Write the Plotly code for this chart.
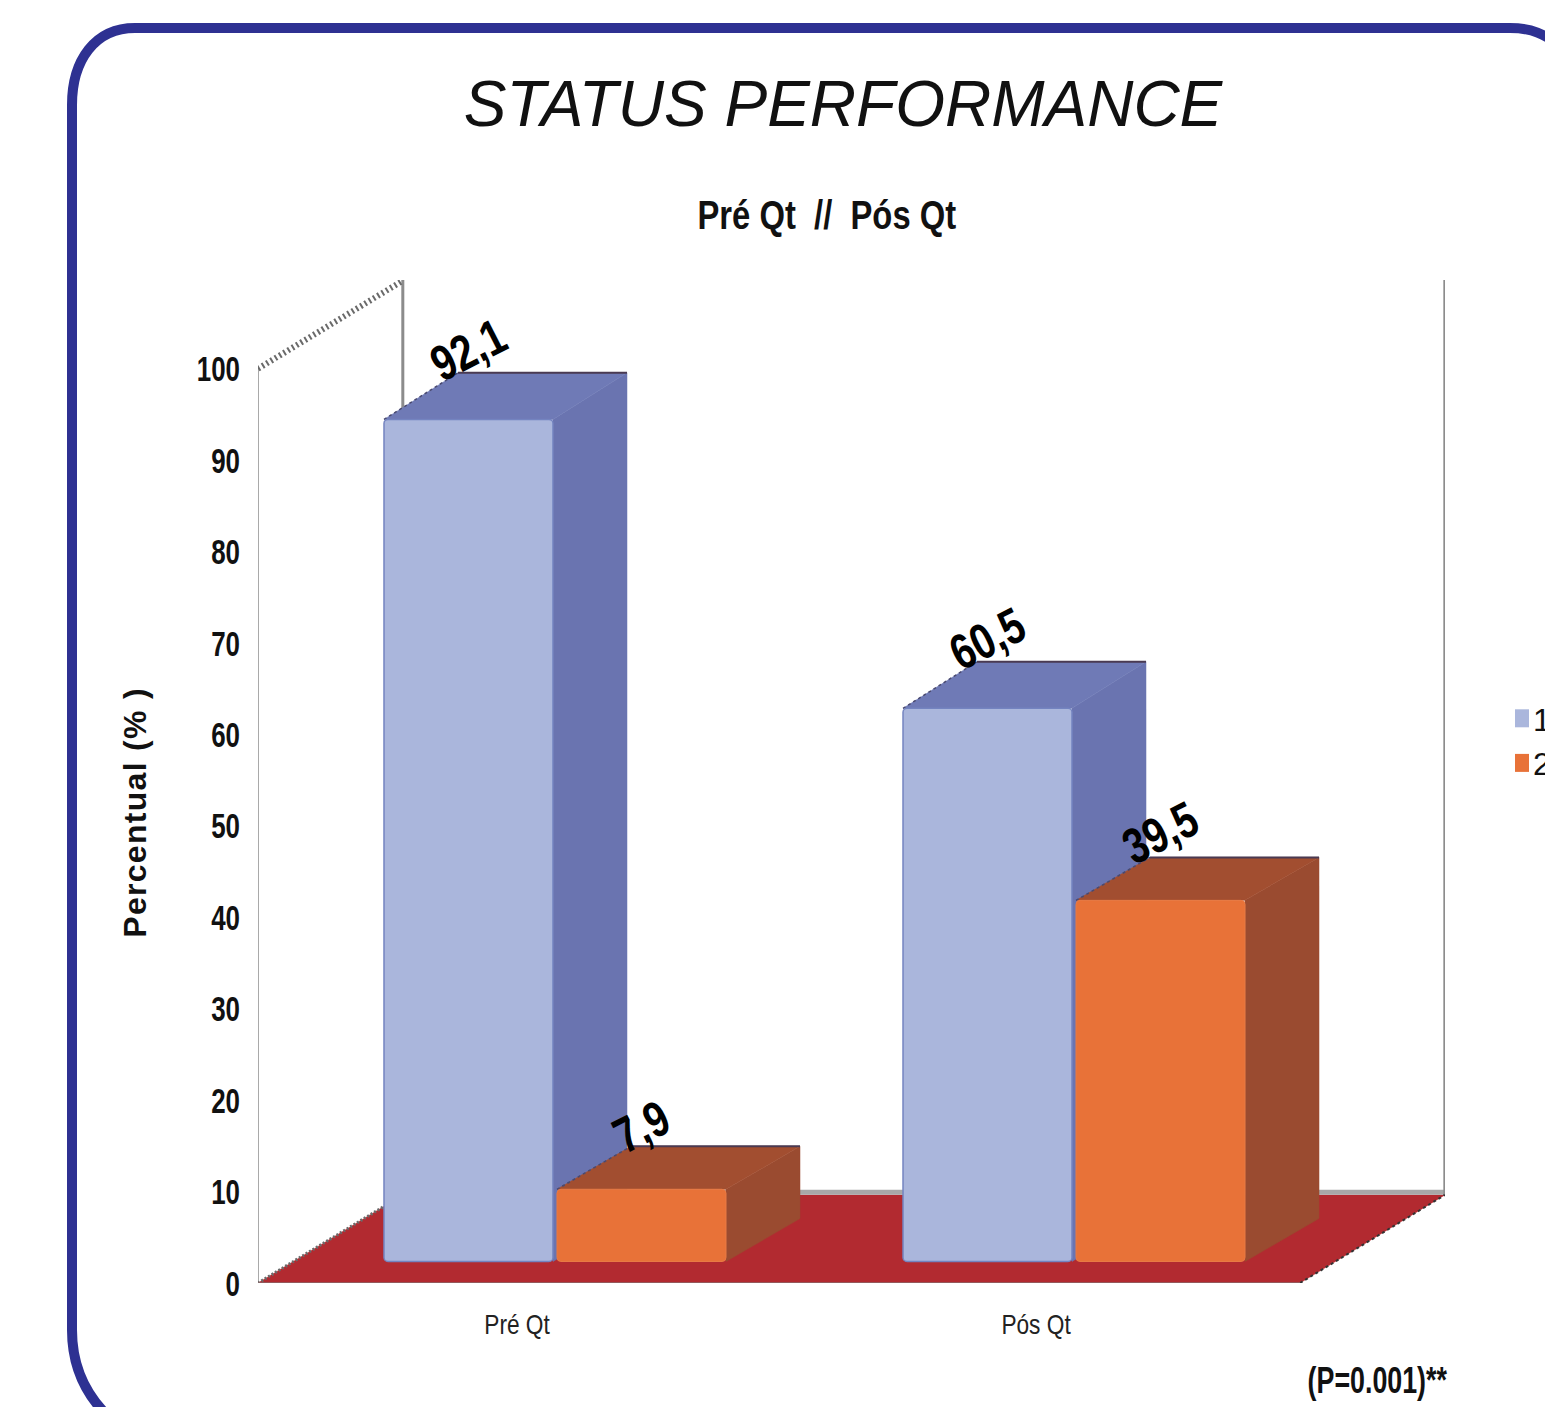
import json
import plotly.graph_objects as go

# Data
categories = ["Pré Qt", "Pós Qt"]
series_names = ["1", "2"]
series_1 = [92.1, 60.5]
series_2 = [7.9, 39.5]
label_1 = ["92,1", "60,5"]
label_2 = ["7,9", "39,5"]
y_ticks = [0, 10, 20, 30, 40, 50, 60, 70, 80, 90, 100]
positions = list(range(len(categories)))

# Geometry of the pseudo-3D box
W, H = 1545, 1407
L, R, T, B = 258, 100, 280, 124
PX_X, PX_Y = 519.0, 9.14
X0 = -0.499
XMAX = 1.788
YMAX = 109.7
FLOOR_DX, FLOOR_DY = 0.279, 9.63
BAR_DX = 0.1426
BAR_DY_1, BAR_DY_2 = 5.1, 4.7
BAR_W = 169 / PX_X
BASE = 2.35
SHIFT = 38 / PX_X
OFF_1 = SHIFT - BAR_W - 2 / PX_X
OFF_2 = SHIFT + 2 / PX_X
LABEL_SHIFT_1 = [69, 69]
LABEL_SHIFT_2 = [62, 67]

C1, C1S, C1T, C1E = "#aab6dc", "#6a74b0", "#6f7ab6", "#7484c0"
C2, C2S, C2T, C2E = "#e87238", "#9a4b30", "#a24e30", "#e87a44"
FLOOR = "#b22a30"
NARROW = "Liberation Sans Narrow, Liberation Sans, sans-serif"
SANS = "Liberation Sans, Arial, sans-serif"
# horizontal squeeze per font size, for the condensed look of the reference
SQUEEZE = {36: 0.72, 50: 0.79, 40: 0.82, 28: 0.81, 37: 0.725}


def px(x):
    return (x - L) / (W - L - R)


def py(y):
    return (H - B - y) / (H - T - B)


def poly(points):
    return "M" + " L".join(f"{a},{b}" for a, b in points) + " Z"


shapes = []


def add_poly(points, color):
    shapes.append(dict(type="path", xref="x", yref="y", layer="below", path=poly(points),
                       fillcolor=color, line=dict(color=color, width=0.5)))


def add_line(a, b, color, width, dash="solid"):
    shapes.append(dict(type="line", xref="x", yref="y", layer="below", x0=a[0], y0=a[1], x1=b[0], y1=b[1],
                       line=dict(color=color, width=width, dash=dash)))


# Frame
frame = (f"M{px(140)},{py(1440)} C{px(97)},{py(1415)} {px(72)},{py(1380)} {px(72)},{py(1330)} "
         f"L{px(72)},{py(105)} C{px(72)},{py(60)} {px(95)},{py(28)} {px(135)},{py(28)} "
         f"L{px(1510)},{py(28)} C{px(1530)},{py(28)} {px(1545)},{py(33)} {px(1565)},{py(50)}")
shapes.append(dict(type="path", xref="paper", yref="paper", layer="below", path=frame,
                   line=dict(color="#2e3192", width=10)))

# Walls and floor
x_end = 1300 / PX_X - 517 / PX_X
add_poly([(X0, 0), (x_end, 0), (x_end + FLOOR_DX, FLOOR_DY), (X0 + FLOOR_DX, FLOOR_DY)], FLOOR)
add_line((X0 + FLOOR_DX, FLOOR_DY + 0.3), (x_end + FLOOR_DX, FLOOR_DY + 0.3), "#a8a8a8", 5)
add_line((X0, 0), (X0, 100), "#a9a9a9", 2)
add_line((X0 + FLOOR_DX, FLOOR_DY), (X0 + FLOOR_DX, YMAX), "#8c8c8c", 3)
add_line((x_end + FLOOR_DX, FLOOR_DY), (x_end + FLOOR_DX, YMAX), "#8c8c8c", 3)
add_line((X0, 100), (X0 + FLOOR_DX, 100 + FLOOR_DY), "#6a6a6a", 6, "2px,3px")
add_line((X0, 0), (X0 + FLOOR_DX, FLOOR_DY), "#6a6a6a", 3, "2px,2px")
add_line((x_end, 0), (x_end + FLOOR_DX, FLOOR_DY), "#333333", 2, "dot")
add_line((X0, 0), (x_end, 0), "#8a6a6a", 1.5)


def add_box_faces(pos, value, offset, depth, side, top):
    x0 = pos + offset
    x1 = x0 + BAR_W
    y0, y1 = BASE, BASE + value
    add_poly([(x1, y0), (x1 + BAR_DX, y0 + depth), (x1 + BAR_DX, y1 + depth), (x1, y1)], side)
    add_poly([(x0, y1), (x0 + BAR_DX, y1 + depth), (x1 + BAR_DX, y1 + depth), (x1, y1)], top)
    add_line((x0 + BAR_DX, y1 + depth), (x1 + BAR_DX, y1 + depth), "#4a3a52", 2)
    add_line((x0, y1), (x0 + BAR_DX, y1 + depth), "#4a4a70", 1.5, "dot")


for p, v in zip(positions, series_1):
    add_box_faces(p, v, OFF_1, BAR_DY_1, C1S, C1T)
for p, v in zip(positions, series_2):
    add_box_faces(p, v, OFF_2, BAR_DY_2, C2S, C2T)

fig = go.Figure()
fig.add_trace(go.Bar(name=series_names[0], x=positions, y=series_1, base=BASE, width=BAR_W, offset=OFF_1,
                     marker=dict(color=C1, cornerradius=4, line=dict(color=C1E, width=1.5)), hoverinfo="y"))
fig.add_trace(go.Bar(name=series_names[1], x=positions, y=series_2, base=BASE, width=BAR_W, offset=OFF_2,
                     marker=dict(color=C2, cornerradius=4, line=dict(color=C2E, width=1)), hoverinfo="y"))

annotations = []


def label(p, v, text, offset, shift):
    annotations.append(dict(x=p + offset + BAR_W / 2, y=BASE + v, xref="x", yref="y", text=text,
                            showarrow=False, textangle=-27, yshift=shift, xanchor="center", yanchor="middle",
                            font=dict(family=NARROW, size=50, color="#000000", weight="bold")))


for p, v, t, s in zip(positions, series_1, label_1, LABEL_SHIFT_1):
    label(p, v, t, OFF_1, s)
for p, v, t, s in zip(positions, series_2, label_2, LABEL_SHIFT_2):
    label(p, v, t, OFF_2, s)


def note(x, y, text, size, family=NARROW, angle=0):
    annotations.append(dict(x=px(x), y=py(y), xref="paper", yref="paper", text=text, textangle=angle,
                            xanchor="center", yanchor="middle", showarrow=False,
                            font=dict(family=family, size=size, color="#111111", weight="bold")))


note(827, 215, "Pré Qt  //  Pós Qt", 40)
note(135, 813, "Percentual (% )", 32, SANS, -90)
note(1377, 1380, "(P=0.001)**", 37)

fig.update_layout(
    width=W, height=H, barmode="overlay", plot_bgcolor="rgba(0,0,0,0)", paper_bgcolor="white",
    margin=dict(l=L, r=R, t=T, b=B, autoexpand=False),
    title=dict(text="STATUS PERFORMANCE", x=843 / W, y=1 - 104 / H, xref="container", yref="container",
               xanchor="center", yanchor="middle",
               font=dict(family=SANS, size=64, color="#111111", style="italic")),
    xaxis=dict(range=[X0, XMAX], tickvals=positions, ticktext=categories, showgrid=False, zeroline=False,
               showline=False, ticks="", ticklabelstandoff=22,
               tickfont=dict(family=NARROW, size=28, color="#222222")),
    yaxis=dict(range=[0, YMAX], tickvals=y_ticks, showgrid=False, zeroline=False, showline=False, ticks="",
               ticklabelstandoff=17, tickfont=dict(family=NARROW, size=36, color="#111111", weight="bold")),
    legend=dict(x=px(1502), y=py(691), xanchor="left", yanchor="top", bgcolor="rgba(0,0,0,0)",
                font=dict(family=SANS, size=32, color="#111111"), itemsizing="constant"),
    shapes=shapes, annotations=annotations, showlegend=True,
)

post = """
document.body.style.margin = '0';
document.body.style.overflow = 'hidden';
var squeeze = %s;
var gd = document.getElementById('{plot_id}');
gd.querySelectorAll('svg text').forEach(function (t) {
  var fam = t.style.fontFamily || '';
  var size = Math.round(parseFloat(t.style.fontSize));
  if (t.textContent.indexOf('Percentual') === 0) { t.style.letterSpacing = '1.3px'; return; }
  if (fam.indexOf('Narrow') < 0 || !squeeze[size]) { return; }
  var b = t.getBBox();
  var a = t.getAttribute('text-anchor') || t.style.textAnchor || 'start';
  var cx = a === 'end' ? b.x + b.width : (a === 'middle' ? b.x + b.width / 2 : b.x);
  var old = t.getAttribute('transform') || '';
  t.setAttribute('transform', old + ' translate(' + cx + ' 0) scale(' + squeeze[size] + ' 1) translate(' + (-cx) + ' 0)');
});
gd.querySelectorAll('.legend .legendtext').forEach(function (t) {
  t.setAttribute('x', parseFloat(t.getAttribute('x')) - 9);
});
gd.querySelectorAll('.legend .legendpoints path').forEach(function (p) {
  p.setAttribute('d', 'M7,9H-7V-9H7Z');
  p.style.strokeWidth = '0';
});
""" % json.dumps(SQUEEZE)

fig.write_html("out.html", config={"displayModeBar": False}, post_script=post)
